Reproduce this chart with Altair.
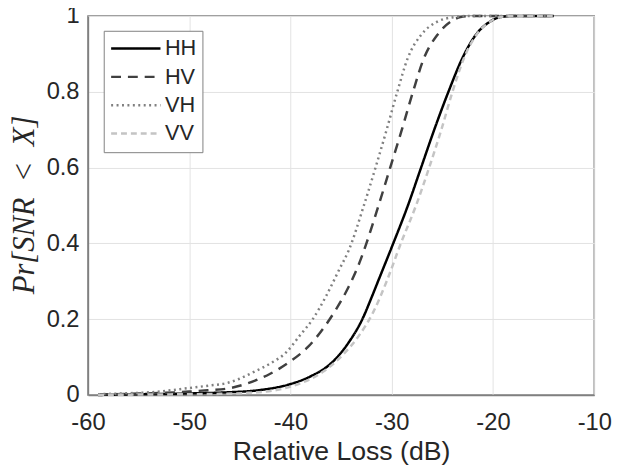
import altair as alt
import pandas as pd

# ---- data ----
x_hh = [-59, -55, -50, -46.2, -43.0, -40.1, -38.1, -35.85, -34.24, -32.9, -31.95, -31.35, -29.85,
        -28.4, -27.1, -25.8, -24.4, -23.0, -21.7, -20.3, -19.3, -18, -14]
p_hh = [0.0, 0.002, 0.004, 0.007, 0.013, 0.028, 0.048, 0.087, 0.139, 0.2, 0.26, 0.3, 0.4,
        0.5, 0.6, 0.7, 0.8, 0.89, 0.95, 0.985, 0.997, 1.0, 1.0]

x_hv = [-59, -56, -53, -50, -48, -46.2, -44.3, -42.0, -40.1, -38.3, -36.8, -35.5, -34.24, -33.1,
        -32.5, -31.3, -30.15, -29.0, -27.9, -26.8, -25.5, -24.2, -23.2, -22, -14]
p_hv = [0.001, 0.003, 0.005, 0.009, 0.013, 0.017, 0.030, 0.056, 0.087, 0.126, 0.174, 0.226, 0.286, 0.355,
        0.4, 0.5, 0.6, 0.7, 0.8, 0.89, 0.95, 0.985, 0.997, 1.0, 1.0]

x_vh = [-59, -56.6, -53.4, -50.1, -48, -46.2, -45.3, -43.6, -42.0, -40.4, -39.1, -37.8, -36.5,
        -35.2, -34.24, -32.75, -31.6, -30.5, -29.45, -28.4, -27.1, -25.5, -23.85, -22.5, -14]
p_vh = [0.002, 0.004, 0.008, 0.018, 0.025, 0.032, 0.04, 0.061, 0.083, 0.113, 0.156, 0.2, 0.26,
        0.33, 0.382, 0.5, 0.6, 0.7, 0.8, 0.89, 0.95, 0.985, 0.997, 1.0, 1.0]

x_vv = [-59, -55, -50, -47, -44.6, -41.4, -39.1, -36.8, -34.9, -33.25, -31.8, -30.5, -29.1,
        -27.6, -26.3, -25.1, -24.0, -22.85, -21.65, -20.3, -19.3, -18, -14]
p_vv = [0.0, 0.001, 0.002, 0.003, 0.005, 0.013, 0.03, 0.061, 0.104, 0.156, 0.22, 0.3, 0.4,
        0.5, 0.6, 0.7, 0.8, 0.89, 0.95, 0.985, 0.997, 1.0, 1.0]

series = ["HH", "HV", "VH", "VV"]
x_ticks = [-60, -50, -40, -30, -20, -10]
y_ticks = [0, 0.2, 0.4, 0.6, 0.8, 1]

rows = []
for name, xs, ps in [("HH", x_hh, p_hh), ("HV", x_hv, p_hv), ("VH", x_vh, p_vh), ("VV", x_vv, p_vv)]:
    for i, (xv, pv) in enumerate(zip(xs, ps)):
        rows.append({"series": name, "x": xv, "p": pv, "order": i})
df = pd.DataFrame(rows)

colors = ["#000000", "#404040", "#808080", "#c4c4c4"]
dashes = [[1, 0], [10, 7], [2, 3.5], [6, 4]]

FONT = "Liberation Sans"
TXT = "#262626"

legend = alt.Legend(
    title=None, orient="none", legendX=16, legendY=15,
    symbolType="stroke", symbolSize=2500, symbolStrokeWidth=2.5,
    labelFont=FONT, labelFontSize=22, labelColor=TXT, labelOffset=3,
    clipHeight=24, rowPadding=4.7,
    padding=6, strokeColor="#808080", fillColor="white",
)

chart = alt.Chart(df).mark_line(strokeWidth=2.5, interpolate="monotone", strokeCap="butt").encode(
    x=alt.X("x:Q", scale=alt.Scale(domain=[-60, -10], nice=False),
            axis=alt.Axis(values=x_ticks, title="Relative Loss (dB)", labelFlush=False,
                          labelExpr="'' + datum.value",
                          labelOverlap=False, ticks=False, tickSize=0, labelPadding=16,
                          titleY=65, titleBaseline="alphabetic")),
    y=alt.Y("p:Q", scale=alt.Scale(domain=[0, 1], nice=False),
            axis=alt.Axis(values=y_ticks, format="~g", title="Pr[SNR\u2002<\u2002X]", labelOverlap=False,
                          ticks=False, tickSize=0, labelPadding=9,
                          titleFont="Liberation Serif", titleFontStyle="italic",
                          titleFontWeight="normal", titleFontSize=31,
                          titleAngle=270, titleX=-64, titleY=191, titleAlign="center",
                          titleBaseline="middle")),
    color=alt.Color("series:N", scale=alt.Scale(domain=series, range=colors), legend=legend),
    strokeDash=alt.StrokeDash("series:N", scale=alt.Scale(domain=series, range=dashes), legend=legend),
    order="order:Q",
).properties(
    width=513, height=384,
    autosize=alt.AutoSizeParams(type="none"),
    padding={"left": 81, "top": 5, "right": 19, "bottom": 78},
).configure_axis(
    labelFont=FONT, labelFontSize=24, labelColor=TXT,
    titleFont=FONT, titleFontSize=27, titleColor=TXT, titleFontWeight="normal",
    grid=True, gridColor="#e3e3e3", gridWidth=1,
    domainColor="#808080", domainWidth=1.5,
).configure_view(stroke="#808080", strokeWidth=1.5)

chart.save("out.html", embed_options={"renderer": "svg", "actions": False})
